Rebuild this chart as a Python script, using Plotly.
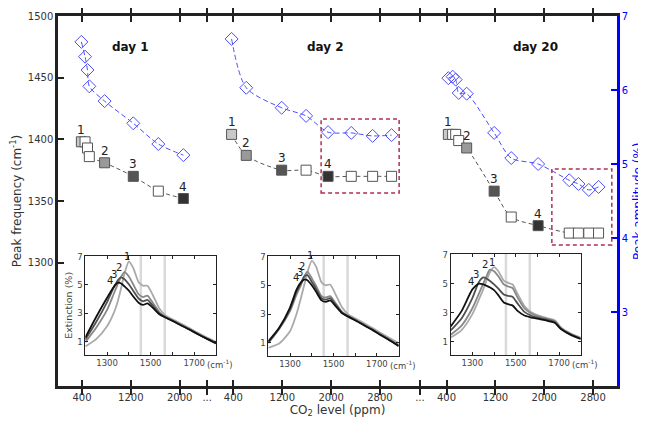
import plotly.graph_objects as go

# ---- main panel: peak frequency (squares) and peak amplitude (diamonds) ----
co2_day1 = [390, 450, 490, 520, 770, 1240, 1650, 2060]
freq_day1 = [1398, 1398, 1393, 1386, 1381, 1370, 1358, 1352]
amp_day1 = [6.65, 6.45, 6.27, 6.05, 5.85, 5.55, 5.27, 5.12]
labeled_day1 = [0, 4, 5, 7]

co2_day2 = [370, 610, 1190, 1590, 1950, 2330, 2680, 2990]
freq_day2 = [1404, 1387, 1375, 1375, 1370, 1370, 1370, 1370]
amp_day2 = [6.69, 6.03, 5.76, 5.65, 5.43, 5.42, 5.38, 5.39]
labeled_day2 = [0, 1, 2, 4]

co2_day20 = [430, 500, 550, 600, 730, 1180, 1460, 1900, 2410, 2560, 2730, 2890]
freq_day20 = [1404, 1404, 1404, 1399, 1393, 1358, 1337, 1330, 1324, 1324, 1324, 1324]
amp_day20 = [6.16, 6.18, 6.14, 5.96, 5.95, 5.42, 5.08, 5.00, 4.78, 4.73, 4.65, 4.69]
labeled_day20 = [0, 4, 5, 7]

day_names = ["day 1", "day 2", "day 20"]
segment_ticks = [[400, 1200, 2000], [400, 1200, 2000, 2800], [400, 1200, 2000, 2800]]

# ---- inset spectra (extinction %, vs wavenumber cm-1) ----
wavenumber = [1200, 1250, 1300, 1330, 1350, 1365, 1380, 1400, 1420, 1445, 1465,
              1485, 1510, 1540, 1570, 1610, 1650, 1680, 1710, 1750, 1800]

spec_day1 = [
    [0.68, 1.2, 2.1, 3.0, 3.9, 4.8, 5.8, 6.65, 6.2, 5.2, 4.95, 4.95, 4.3, 3.35, 2.85, 2.52, 2.2, 1.95, 1.7, 1.38, 1.0],
    [0.98, 2.0, 3.25, 4.35, 5.1, 5.6, 5.9, 5.6, 5.05, 4.35, 4.15, 4.25, 3.75, 3.1, 2.75, 2.45, 2.12, 1.88, 1.63, 1.31, 0.94],
    [1.16, 2.4, 3.8, 4.8, 5.35, 5.54, 5.4, 5.05, 4.6, 4.05, 3.85, 3.95, 3.55, 3.0, 2.72, 2.42, 2.1, 1.86, 1.61, 1.29, 0.92],
    [1.3, 2.75, 4.1, 4.85, 5.16, 5.1, 4.9, 4.6, 4.2, 3.75, 3.6, 3.7, 3.4, 2.95, 2.7, 2.4, 2.08, 1.85, 1.6, 1.28, 0.9],
]
spec_day2 = [
    [0.65, 0.95, 1.8, 3.0, 4.1, 5.0, 5.9, 6.7, 6.3, 5.2, 5.0, 5.05, 4.35, 3.45, 2.95, 2.62, 2.28, 2.02, 1.75, 1.4, 0.98],
    [0.97, 1.95, 3.2, 4.35, 5.0, 5.6, 5.95, 5.5, 4.95, 4.25, 4.15, 4.25, 3.75, 3.15, 2.85, 2.52, 2.18, 1.93, 1.66, 1.3, 0.85],
    [1.03, 2.0, 3.35, 4.55, 5.15, 5.6, 5.7, 5.25, 4.75, 4.1, 4.0, 4.1, 3.65, 3.1, 2.82, 2.5, 2.15, 1.9, 1.63, 1.27, 0.8],
    [1.1, 2.05, 3.45, 4.7, 5.2, 5.4, 5.35, 5.0, 4.55, 3.95, 3.85, 3.95, 3.55, 3.05, 2.8, 2.48, 2.13, 1.88, 1.6, 1.24, 0.76],
]
spec_day20 = [
    [1.28, 1.8, 2.9, 3.9, 4.6, 5.2, 5.75, 6.13, 5.85, 5.2, 5.05, 4.95, 4.25, 3.45, 3.05, 2.78, 2.6, 2.48, 1.97, 1.6, 1.27],
    [1.47, 2.1, 3.3, 4.3, 5.0, 5.5, 5.95, 5.85, 5.5, 4.95, 4.8, 4.7, 4.0, 3.3, 2.95, 2.7, 2.55, 2.42, 1.92, 1.55, 1.22],
    [1.78, 2.6, 4.0, 5.1, 5.42, 5.35, 5.2, 4.95, 4.65, 4.25, 4.15, 4.1, 3.6, 3.05, 2.8, 2.62, 2.48, 2.35, 1.88, 1.52, 1.2],
    [2.05, 3.1, 4.6, 5.0, 4.95, 4.85, 4.75, 4.55, 4.2, 3.7, 3.58, 3.5, 3.1, 2.8, 2.68, 2.55, 2.42, 2.3, 1.85, 1.5, 1.18],
]
marker_bands = [1455, 1565]

# broken CO2 axis: each day is shifted along one continuous axis
offsets = [0, 2480, 5970]
break_ticks = [2450, 5935]

FONT = "DejaVu Sans, Verdana, sans-serif"
label_fills = ["#c8c8c8", "#999999", "#555555", "#333333"]
spec_colors = ["#aaaaaa", "#888888", "#505050", "#111111"]
label_shift = [(-2, 5), (-5, 5), (-7, 3), (-8, 2)]
BLUE = "#4d4dff"

fig = go.Figure()

days = [
    (co2_day1, freq_day1, amp_day1, labeled_day1),
    (co2_day2, freq_day2, amp_day2, labeled_day2),
    (co2_day20, freq_day20, amp_day20, labeled_day20),
]

for d, (co2, freq, amp, labeled) in enumerate(days):
    xs = [c + offsets[d] for c in co2]
    fills = ["white"] * len(xs)
    for k, i in enumerate(labeled):
        fills[i] = label_fills[k]

    fig.add_trace(go.Scatter(
        x=xs, y=freq, mode="lines", hoverinfo="skip",
        line=dict(color="#555", width=1, dash="4px,3px", shape="spline", smoothing=0.8)))
    fig.add_trace(go.Scatter(
        x=xs, y=freq, mode="markers",
        marker=dict(symbol="square", size=10, color=fills, line=dict(color="#555", width=1))))
    fig.add_trace(go.Scatter(
        x=xs, y=amp, yaxis="y2", mode="lines", hoverinfo="skip",
        line=dict(color=BLUE, width=1, dash="5px,3px", shape="spline", smoothing=0.8)))
    fig.add_trace(go.Scatter(
        x=xs, y=amp, yaxis="y2", mode="markers",
        marker=dict(symbol="diamond-open", size=10, color=BLUE, line=dict(width=1))))

    for k, i in enumerate(labeled):
        fig.add_annotation(x=xs[i], y=freq[i], text=str(k + 1), showarrow=False,
                           yshift=12, font=dict(size=12, color="#222"))

# day titles
for d, name in enumerate(day_names):
    fig.add_annotation(x=[1190, 1916, 1849][d] + offsets[d], y=1475, text="<b>%s</b>" % name,
                       showarrow=False, font=dict(size=12, color="#111"))

# dashed boxes round the plateau points
BOXC = "#b03050"
fig.add_shape(type="rect", xref="x", yref="y", x0=offsets[1] + 1836, x1=offsets[1] + 3114,
              y0=1356.5, y1=1416.4, line=dict(color=BOXC, width=1.5, dash="4px,3px"))
fig.add_shape(type="rect", xref="x", yref="y", x0=offsets[2] + 2125, x1=offsets[2] + 3107,
              y0=1314.4, y1=1376, line=dict(color=BOXC, width=1.5, dash="4px,3px"))

# insets
spectra = [spec_day1, spec_day2, spec_day20]
inset_x = [[0.0488, 0.2826], [0.3762, 0.6094], [0.7025, 0.9351]]
inset_y = [[0.0838, 0.3522], [0.0811, 0.3522], [0.0838, 0.3576]]

for n, spec in enumerate(spectra):
    xa = "x%d" % (n + 2)
    ya = "y%d" % (n + 3)
    for b in marker_bands:
        fig.add_trace(go.Scatter(x=[b, b], y=[0, 7.2], xaxis=xa, yaxis=ya, mode="lines",
                                 hoverinfo="skip", line=dict(color="#d9d9d9", width=2.5)))
    for c in range(4):
        fig.add_trace(go.Scatter(x=wavenumber, y=spec[c], xaxis=xa, yaxis=ya, mode="lines",
                                 line=dict(color=spec_colors[c], width=1.8, shape="spline", smoothing=0.6)))
        vmax = max(spec[c])
        imax = spec[c].index(vmax)
        fig.add_annotation(x=wavenumber[imax], y=vmax, xref=xa, yref=ya, text=str(c + 1),
                           showarrow=False, xshift=label_shift[c][0], yshift=label_shift[c][1],
                           font=dict(size=10, color="#222"))
    fig.add_annotation(x=1750, y=0, xref=xa, yref=ya + " domain", text="(cm<sup>-1</sup>)",
                       showarrow=False, xanchor="left", yanchor="top", yshift=-1,
                       font=dict(size=8.5, color="#444"))

    inset_xaxis = dict(domain=inset_x[n], anchor=ya, range=[1200, 1800],
                       tickvals=[1300, 1400, 1500, 1600, 1700],
                       ticktext=["1300", "", "1500", "", "1700"],
                       ticks="inside", ticklen=3, tickcolor="#222", showline=True,
                       linecolor="#222", linewidth=1, mirror="allticks", showgrid=False,
                       zeroline=False, automargin=False, tickfont=dict(size=8.5, color="#444"))
    inset_yaxis = dict(domain=inset_y[n], anchor=xa, range=[0.08, 7.06], tickvals=[1, 3, 5, 7],
                       ticks="inside", ticklen=3, tickcolor="#222", showline=True,
                       linecolor="#222", linewidth=1, mirror="allticks", showgrid=False,
                       zeroline=False, automargin=False, tickfont=dict(size=8.5, color="#444"))
    if n == 0:
        inset_yaxis["title"] = dict(text="Extinction (%)", standoff=2,
                                    font=dict(size=9.5, color="#444"))
    fig.layout["xaxis%d" % (n + 2)] = inset_xaxis
    fig.layout["yaxis%d" % (n + 3)] = inset_yaxis

# right-hand axis title, placed by hand so it is not clipped
fig.add_annotation(xref="paper", yref="paper", x=1, y=0.5, xanchor="center", xshift=21,
                   text="Peak amplitude (%)", textangle=-90, showarrow=False,
                   font=dict(size=12, color="blue"))

# main axis ticks
tickvals, ticktext = [], []
for d, ticks in enumerate(segment_ticks):
    for t in ticks:
        tickvals.append(t + offsets[d])
        ticktext.append(str(t))
tickvals += break_ticks
ticktext += ["...", "..."]

# the page body adds an 8px offset, so margins are shifted by that much
fig.update_layout(
    width=646, height=422,
    margin=dict(l=50, r=37, t=8, b=44, autoexpand=False),
    paper_bgcolor="white", plot_bgcolor="white",
    showlegend=False,
    font=dict(family=FONT, size=10, color="#333"),
    xaxis=dict(range=[7, 9162], tickvals=tickvals, ticktext=ticktext,
               ticks="inside", ticklen=6, tickwidth=2, tickcolor="#222",
               showline=True, linecolor="#222", linewidth=2.5, mirror="allticks",
               showgrid=False, zeroline=False, automargin=False,
               tickfont=dict(size=10, color="#333"),
               title=dict(text="CO<sub>2</sub> level (ppm)", standoff=3,
                          font=dict(size=12, color="#333"))),
    yaxis=dict(range=[1200, 1500], tickvals=[1300, 1350, 1400, 1450, 1500],
               ticks="inside", ticklen=6, tickwidth=2, tickcolor="#222",
               showline=True, linecolor="#222", linewidth=2.5,
               showgrid=False, zeroline=False, automargin=False,
               tickfont=dict(size=10, color="#333"),
               title=dict(text="Peak frequency (cm<sup>-1</sup>)", standoff=4,
                          font=dict(size=12, color="#333"))),
    yaxis2=dict(overlaying="y", side="right", anchor="x", range=[2, 7], tickvals=[3, 4, 5, 6, 7],
                ticks="inside", ticklen=6, tickwidth=2, tickcolor="blue",
                showline=True, linecolor="blue", linewidth=2.5,
                showgrid=False, zeroline=False, automargin=False,
                tickfont=dict(size=10, color="blue")),
)

fig.write_html("out.html")
